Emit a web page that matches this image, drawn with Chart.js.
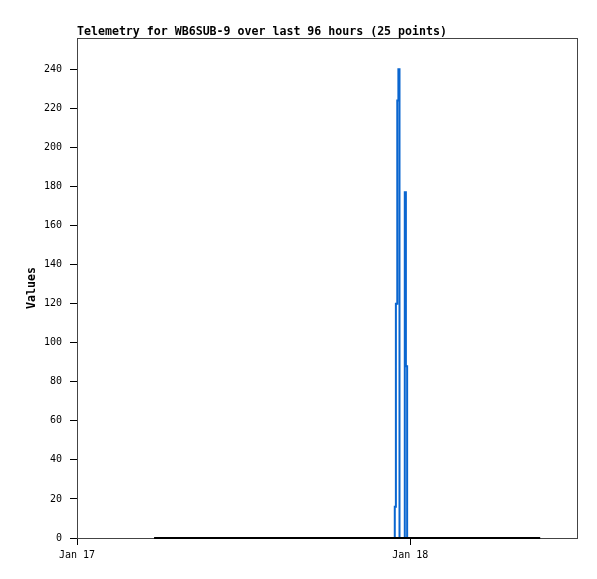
<!DOCTYPE html>
<html>
<head>
<meta charset="utf-8">
<script src="https://cdn.jsdelivr.net/npm/chart.js@4/dist/chart.umd.min.js"></script>
<style>
html,body{margin:0;padding:0;background:#fff;}
canvas{display:block;}
</style>
</head>
<body>
<canvas id="c" width="597" height="579"></canvas>
<script>
// ---- data ----
const titleText = "Telemetry for WB6SUB-9 over last 96 hours (25 points)";
const yAxisTitle = "Values";
// hours since Jan 17 00:00
const xTickHours = [0, 24];
const xTickLabels = ["Jan 17", "Jan 18"];
const yTickValues = [0, 20, 40, 60, 80, 100, 120, 140, 160, 180, 200, 220, 240];
const spikeHours = [22.86, 22.88, 22.96, 23.06, 23.14, 23.22, 23.60, 23.68, 23.77];
const spikeValues = [0, 16, 120, 224, 240, 0, 177, 88, 0];
const baseHours = [5.55, 12.0, 18.0, 22.0, 24.5, 28.0, 33.35];
const baseValues = [0, 0, 0, 0, 0, 0, 0];

const MONO = '"DejaVu Sans Mono", "Liberation Mono", monospace';

const toPts = (xs, ys) => xs.map((x, i) => ({x: x, y: ys[i]}));

const framePlugin = {
  id: 'frame',
  beforeDatasetsDraw(chart) {
    const a = chart.chartArea, ctx = chart.ctx;
    ctx.save();
    ctx.strokeStyle = '#444';
    ctx.lineWidth = 1;
    ctx.strokeRect(Math.round(a.left) + 0.5, Math.round(a.top) + 0.5,
                   Math.round(a.right - a.left), Math.round(a.bottom - a.top));
    ctx.restore();
  },
  afterDraw(chart) {
    const a = chart.chartArea, ctx = chart.ctx;
    ctx.save();
    ctx.fillStyle = '#000';
    ctx.font = 'bold 11.6px ' + MONO;
    ctx.textAlign = 'left';
    ctx.textBaseline = 'alphabetic';
    ctx.fillText(titleText, a.left, 35);
    ctx.translate(32, (a.top + a.bottom) / 2);
    ctx.rotate(-Math.PI / 2);
    ctx.textAlign = 'center';
    ctx.textBaseline = 'middle';
    ctx.font = 'bold 11.6px ' + MONO;
    ctx.fillText(yAxisTitle, 0, 0);
    ctx.restore();
  }
};

new Chart(document.getElementById('c'), {
  type: 'line',
  data: {
    datasets: [
      {
        label: 'base',
        data: toPts(baseHours, baseValues),
        borderColor: '#000',
        borderWidth: 2,
        pointRadius: 0,
        order: 0,
        clip: 4
      },
      {
        label: 'values',
        data: toPts(spikeHours, spikeValues),
        borderColor: '#0a66d0',
        borderWidth: 2,
        pointRadius: 0,
        stepped: 'before',
        order: 1,
        clip: 4
      }
    ]
  },
  options: {
    responsive: false,
    animation: false,
    events: [],
    layout: {padding: {top: 38, left: 0, right: 20, bottom: 0}},
    plugins: {legend: {display: false}, title: {display: false}, tooltip: {enabled: false}},
    scales: {
      x: {
        type: 'linear',
        min: 0,
        max: 36,
        afterBuildTicks(scale) { scale.ticks = xTickHours.map(v => ({value: v})); },
        afterFit(scale) { scale.height = 41; },
        grid: {drawOnChartArea: false, drawTicks: true, tickLength: 7, color: '#000', tickWidth: 1},
        border: {display: true, color: '#000', width: 1},
        ticks: {
          color: '#000',
          font: {family: MONO, size: 10},
          padding: 4,
          maxRotation: 0,
          autoSkip: false,
          callback: (v) => { const i = xTickHours.indexOf(v); return i >= 0 ? xTickLabels[i] : ''; }
        }
      },
      y: {
        type: 'linear',
        min: 0,
        max: 256,
        afterBuildTicks(scale) { scale.ticks = yTickValues.map(v => ({value: v})); },
        afterFit(scale) { scale.width = 77; },
        grid: {drawOnChartArea: false, drawTicks: true, tickLength: 7, color: '#000', tickWidth: 1},
        border: {display: true, color: '#000', width: 1},
        ticks: {
          color: '#000',
          font: {family: MONO, size: 10},
          padding: 8,
          autoSkip: false
        }
      }
    }
  },
  plugins: [framePlugin]
});
</script>
</body>
</html>
